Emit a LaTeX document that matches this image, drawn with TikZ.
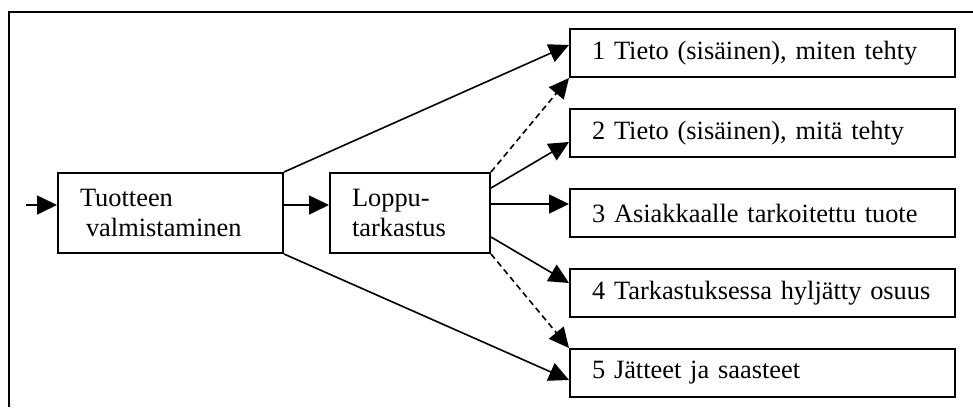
\documentclass[tikz,border=0pt]{standalone}
\usepackage{fontspec}
\setmainfont{Liberation Serif}
\usetikzlibrary{arrows.meta}

\tikzset{
  box/.style={draw, line width=1pt, inner xsep=11pt, inner ysep=2pt, align=left,
    font=\fontsize{13.2}{15.2}\selectfont},
  outbox/.style={box, text width=170.5pt, minimum height=24pt},
  arr/.style={-{Triangle[length=10pt,width=9.5pt]}, line width=0.8pt},
  dasharr/.style={arr, dash pattern=on 3pt off 2pt}
}

\begin{document}
\begin{tikzpicture}[x=0.5pt,y=-0.5pt]
				\useasboundingbox (0,0) rectangle (973,407);
				
				% Frame
				\draw[line width=1pt] (973,12) -- (9,12) -- (9,407);
				
				% Production and final inspection
				\node[box, text width=90.5pt, minimum height=40pt] (valm) at (170.5,213)
				  {Tuotteen\\\hspace{3pt}valmistaminen};
				\node[box, text width=58pt, minimum height=40pt] (tark) at (410,213)
				  {Loppu-\\tarkastus};
				
				% Outputs
				\node[outbox] (out1) at (762.5,53) {1 Tieto (sisäinen), miten tehty};
				\node[outbox] (out2) at (762.5,133) {2 Tieto (sisäinen), mitä tehty};
				\node[outbox] (out3) at (762.5,213) {3 Asiakkaalle tarkoitettu tuote};
				\node[outbox] (out4) at (762.5,293) {4 Tarkastuksessa hyljätty osuus};
				\node[outbox] (out5) at (762.5,373) {5 Jätteet ja saasteet};
				
				% Input arrow
				\coordinate (in) at (26,205);
				\draw[arr] (in) -- ([yshift=4pt]valm.west);
				\draw[arr] ([yshift=4pt]valm.east) -- ([yshift=4pt]tark.west);
				
				% From production
				\draw[arr] (valm.north east) -- ([yshift=4pt]out1.west);
				\draw[arr] (valm.south east) -- ([yshift=-3.5pt]out5.west);
				
				% From final inspection
				\draw[dasharr] (tark.north east) -- (out1.south west);
				\draw[arr] ([yshift=12.5pt]tark.east) -- ([yshift=-4.5pt]out2.west);
				\draw[arr] ([yshift=4.5pt]tark.east) -- ([yshift=4.5pt]out3.west);
				\draw[arr] ([yshift=-12pt]tark.east) -- ([yshift=5pt]out4.west);
				\draw[dasharr] (tark.south east) -- (out5.north west);
			\end{tikzpicture}
\end{document}
